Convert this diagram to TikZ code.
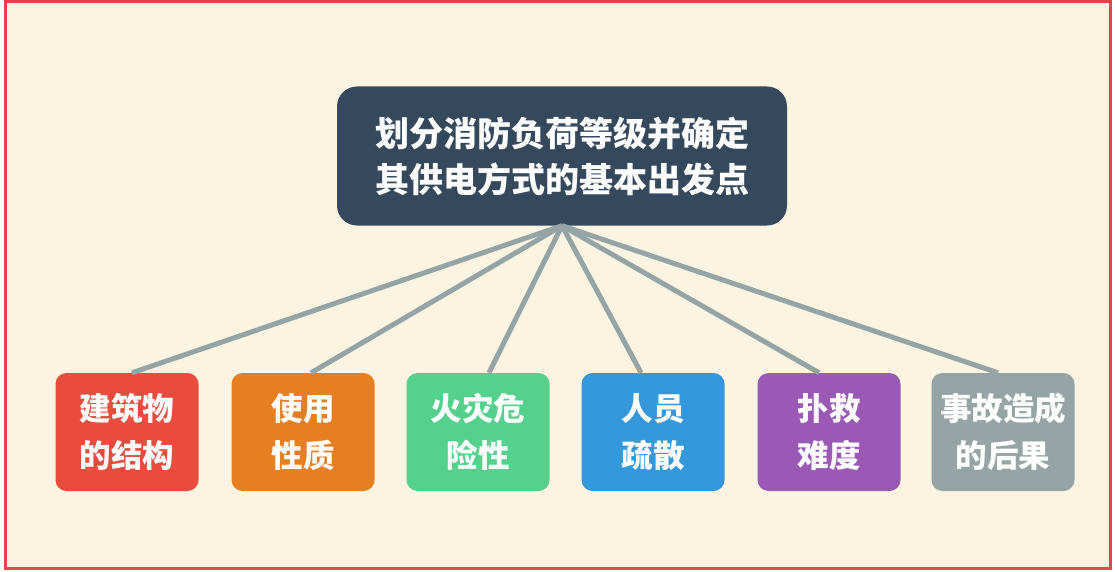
\documentclass[tikz,border=0pt]{standalone}
\usepackage{fontspec}
\newfontfamily\cjk{Noto Sans CJK SC}[BoldFont={Noto Sans CJK SC Black}]
\definecolor{bgc}{HTML}{FBF4E0}
\definecolor{framec}{HTML}{E9424C}
\definecolor{rootc}{HTML}{34495E}
\definecolor{linec}{HTML}{95A5A6}
\definecolor{c1}{HTML}{E74C3C}
\definecolor{c2}{HTML}{E67E22}
\definecolor{c3}{HTML}{55D18B}
\definecolor{c4}{HTML}{3498DB}
\definecolor{c5}{HTML}{9B59B6}
\definecolor{c6}{HTML}{95A5A6}
\tikzset{
  rootbox/.style={fill=rootc, rounded corners=20pt, minimum width=450pt, minimum height=139pt,
    text=white, align=center, inner sep=0pt, font=\cjk\bfseries\fontsize{34pt}{46pt}\selectfont},
  leafbox/.style={fill=#1, rounded corners=11pt, minimum width=143pt, minimum height=118pt,
    text=white, align=center, inner sep=0pt, font=\cjk\bfseries\fontsize{31.5pt}{47pt}\selectfont},
  link/.style={draw=linec, line width=5pt}
}
\begin{document}
\begin{tikzpicture}[x=1pt,y=-1pt]
\fill[white] (0,0) rectangle (1115,572);
\useasboundingbox (0,0) rectangle (1115,572);
\fill[bgc] (5.5,1.5) rectangle (1110.5,568.5);
\draw[framec, line width=3pt] (5.5,1.5) rectangle (1110.5,568.5);

\node[rootbox] (root) at (562,156) {划分消防负荷等级并确定\\其供电方式的基本出发点};

\node[leafbox=c1] (n1) at (127,432) {建筑物\\的结构};
\node[leafbox=c2] (n2) at (303,432) {使用\\性质};
\node[leafbox=c3] (n3) at (478,432) {火灾危\\险性};
\node[leafbox=c4] (n4) at (653,432) {人员\\疏散};
\node[leafbox=c5] (n5) at (829,432) {扑救\\难度};
\node[leafbox=c6] (n6) at (1003,432) {事故造成\\的后果};

\draw[link] (root.south) -- ([xshift=5pt]n1.north);
\draw[link] (root.south) -- ([xshift=8pt]n2.north);
\draw[link] (root.south) -- ([xshift=11pt]n3.north);
\draw[link] (root.south) -- ([xshift=-12pt]n4.north);
\draw[link] (root.south) -- ([xshift=-10pt]n5.north);
\draw[link] (root.south) -- ([xshift=-5pt]n6.north);
\end{tikzpicture}
\end{document}
